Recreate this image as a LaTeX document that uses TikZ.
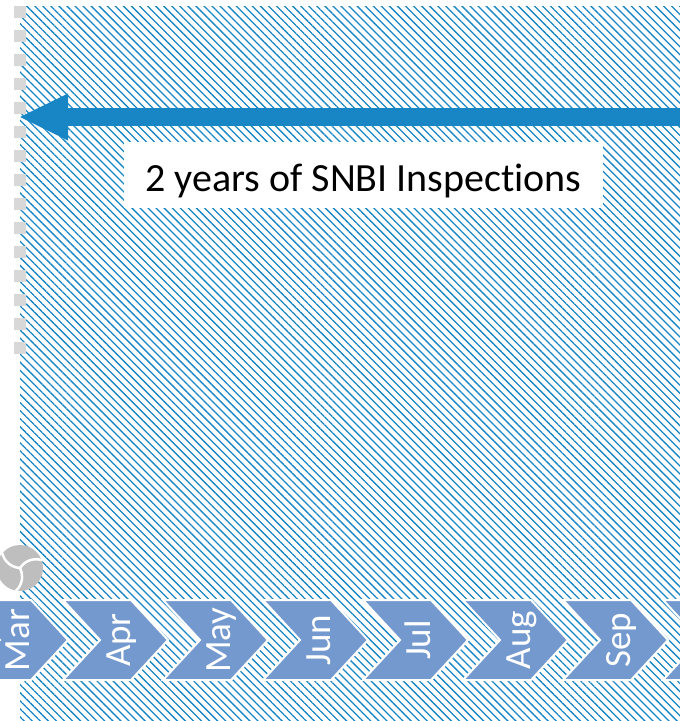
\documentclass[tikz,border=0pt]{standalone}
\usepackage{fontspec}
\setmainfont{Carlito}[Ligatures=NoCommon]
\usetikzlibrary{arrows.meta,patterns.meta}
\definecolor{hatchblue}{RGB}{24,134,196}
\definecolor{chevblue}{RGB}{115,153,206}
\definecolor{logogray}{RGB}{190,190,190}
\tikzset{
  hatch/.style={pattern={Lines[angle=-45,distance=5.7pt,line width=1.3pt]}, pattern color=hatchblue},
  spanarrow/.style={draw=hatchblue, line width=18pt, -{Triangle[length=48pt,width=47pt,line width=0pt]}},
  chevron/.style={fill=chevblue, draw=white, line width=2pt, line join=miter},
  month/.style={text=white, rotate=90, anchor=base, font=\fontsize{37}{37}\selectfont},
  swirl/.style={draw=white, line width=2.5pt, line cap=round}
}

\begin{document}
\begin{tikzpicture}[x=1pt, y=-1pt]
		\useasboundingbox (0,0) rectangle (680,721);
		\clip (0,0) rectangle (680,721);
		\fill[hatch] (20,6) rectangle (680,721);
		\draw[logogray!60, line width=12pt, dash pattern=on 12pt off 12pt] (20,6) -- (20,354);
		\coordinate (spanright) at (680,117);
		\coordinate (spanleft) at (20,117);
		\draw[spanarrow] (spanright) -- (spanleft);
		\node (span)[fill=white, inner sep=0, minimum width=479pt, text height=49pt, text depth=17pt, font=\fontsize{40}{41}\selectfont] at (363.5,175) {2 years of SNBI Inspections};
		\node (logo)[circle, fill=logogray, minimum size=46pt, inner sep=0] at (20,568) {};
		\draw[swirl] (logo.center) to[bend left=35] (logo.140);
		\draw[swirl] (logo.center) to[bend left=35] (logo.20);
		\draw[swirl] (logo.center) to[bend left=35] (logo.260);
		\foreach \n in {0,100,...,700}
			\draw[chevron] (\n-37,600) -- (\n+31,600) -- (\n+68,640) -- (\n+31,680) -- (\n-37,680) -- (\n,640) -- cycle;
		\node (mar)[month] at (30,640) {Mar};
		\node (apr)[month] at (130,640) {Apr};
		\node (may)[month] at (230,640) {May};
		\node (jun)[month] at (330,640) {Jun};
		\node (jul)[month] at (430,640) {Jul};
		\node (aug)[month] at (530,640) {Aug};
		\node (sep)[month] at (630,640) {Sep};
	\end{tikzpicture}
\end{document}
